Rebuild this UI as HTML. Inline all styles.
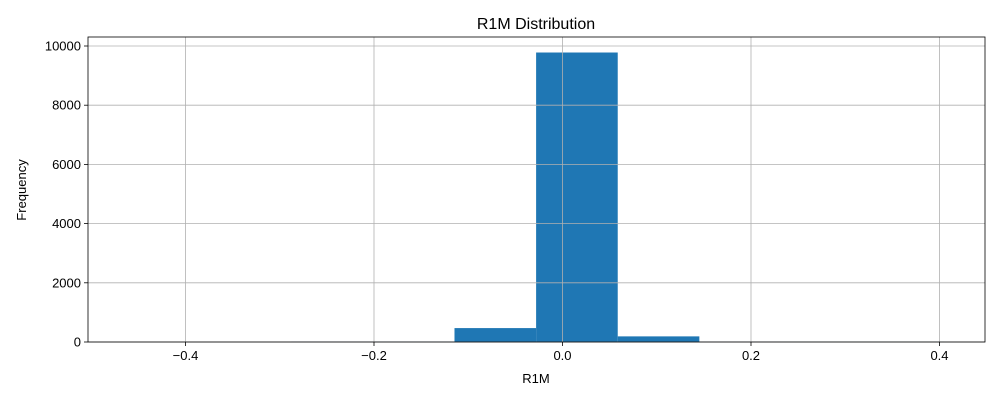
<!DOCTYPE html>
<html><head><meta charset="utf-8"><style>
body{margin:0;background:#fff}
svg text{font-family:"Liberation Sans","DejaVu Sans",sans-serif;fill:#000}
</style></head><body>
<svg id="chart" width="1000" height="400">
<rect x="0" y="0" width="1000" height="400" fill="#fff"/>
<text x="536" y="29" font-size="16" text-anchor="middle">R1M Distribution</text>
<text x="536" y="383" font-size="13" text-anchor="middle">R1M</text>
<text x="26" y="190" font-size="13" text-anchor="middle" transform="rotate(-90 26 190)">Frequency</text>
<g id="bars"></g><g id="grid"></g><g id="axes"></g>
</svg>
<script>
const binEdgesMin = -0.461;
const binEdgesMax = 0.405;
const counts = [0, 0, 12, 15, 470, 9780, 190, 10, 8, 8];
const xTicks = [-0.4, -0.2, 0.0, 0.2, 0.4];
const xTickLabels = ["−0.4", "−0.2", "0.0", "0.2", "0.4"];
const yTicks = [0, 2000, 4000, 6000, 8000, 10000];
const yTickLabels = ["0", "2000", "4000", "6000", "8000", "10000"];

const L=88,R=985,T=37,B=342;
const x=v=>562.5+(v)*942.5;
const y=v=>B-v*(296/10000);
const NS="http://www.w3.org/2000/svg";
function mk(tag,attrs,parent){const e=document.createElementNS(NS,tag);for(const k in attrs)e.setAttribute(k,attrs[k]);parent.appendChild(e);return e;}
const bars=document.getElementById('bars'),grid=document.getElementById('grid'),axes=document.getElementById('axes');
const w=(binEdgesMax-binEdgesMin)/counts.length;
counts.forEach((c,i)=>{
  const x0=x(binEdgesMin+i*w),x1=x(binEdgesMin+(i+1)*w);
  const r=mk('rect',{x:x0,y:y(c),width:x1-x0,height:B-y(c),fill:'#1f77b4'},bars);
  
  
});
xTicks.forEach((t,i)=>{
  const g=mk('line',{x1:x(t),x2:x(t),y1:T,y2:B,stroke:'#b0b0b0','stroke-width':0.8},grid);
  
  
  mk('line',{x1:x(t),x2:x(t),y1:B,y2:B+4,stroke:'#000','stroke-width':0.8},axes);
  const tx=mk('text',{x:x(t),y:B+18,'font-size':13,'text-anchor':'middle'},axes);
  tx.textContent=xTickLabels[i];
  
  
});
yTicks.forEach((t,i)=>{
  const g=mk('line',{x1:L,x2:R,y1:y(t),y2:y(t),stroke:'#b0b0b0','stroke-width':0.8},grid);
  
  
  mk('line',{x1:L-4,x2:L,y1:y(t),y2:y(t),stroke:'#000','stroke-width':0.8},axes);
  const tx=mk('text',{x:L-7,y:y(t)+4.5,'font-size':13,'text-anchor':'end'},axes);
  tx.textContent=yTickLabels[i];
  
  
});
const fr=mk('rect',{x:L,y:T,width:R-L,height:B-T,fill:'none',stroke:'#000','stroke-width':0.8},axes);


</script>
</body></html>
